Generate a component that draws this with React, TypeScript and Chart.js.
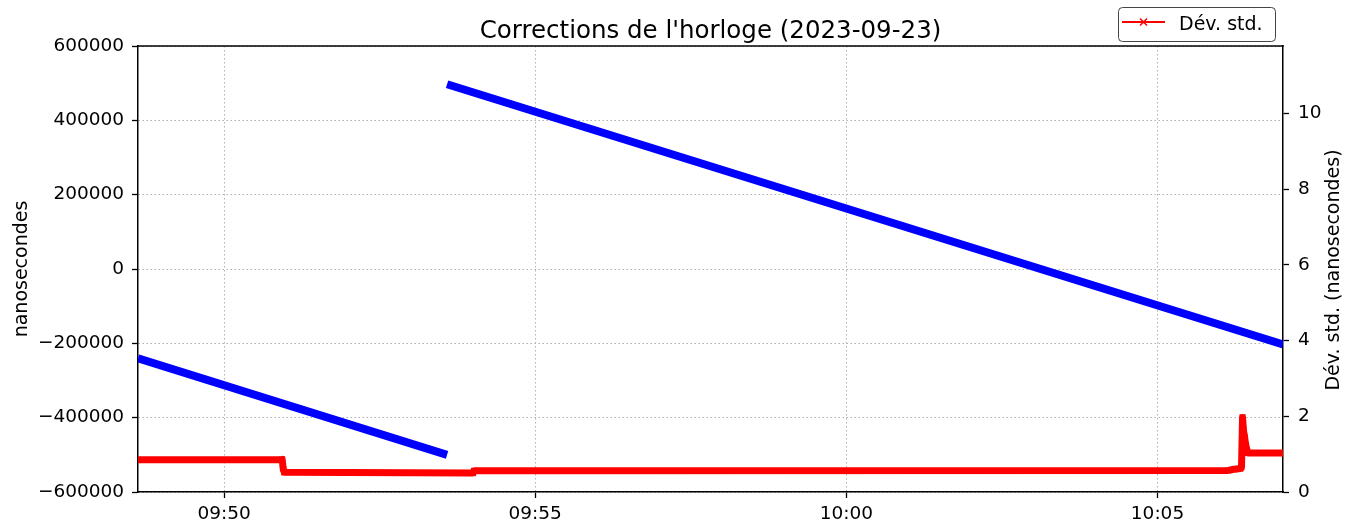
import React, { useEffect, useRef } from 'react';
import { Chart, registerables } from 'chart.js';

Chart.register(...registerables);

const titleText = "Corrections de l'horloge (2023-09-23)";
const leftAxisTitle = 'nanosecondes';
const rightAxisTitle = 'Dév. std. (nanosecondes)';
const legendLabel = 'Dév. std.';

const xRange = ['09:48:37', '10:07:01'];
const xTickLabels = ['09:50', '09:55', '10:00', '10:05'];

const leftTicks = [-600000, -400000, -200000, 0, 200000, 400000, 600000];
const rightTicks = [0, 2, 4, 6, 8, 10];
const rightMax = 11.78;

// Clock corrections (ns), two linear runs separated by a jump
const blueTimes1 = ['09:48:37', '09:53:35'];
const blueValues1 = [-240000, -500000];
const blueTimes2 = ['09:53:35', '10:07:01'];
const blueValues2 = [497000, -203000];

// Standard deviation (ns)
const redTimes = [
  '09:48:37', '09:50:55', '09:50:56', '09:50:57', '09:50:58', '09:54:00', '09:54:01',
  '10:06:08', '10:06:14', '10:06:20', '10:06:21', '10:06:22', '10:06:23', '10:06:24',
  '10:06:25', '10:06:27', '10:07:01',
];
const redValues = [
  0.85, 0.85, 0.86, 0.62, 0.52, 0.5, 0.56,
  0.57, 0.6, 0.62, 0.66, 1.97, 1.6, 1.45,
  1.25, 1.03, 1.03,
];

const FONT = 'DejaVu Sans';

function toSec(t: string): number {
  const p = t.split(':').map(Number);
  return p[0] * 3600 + p[1] * 60 + (p[2] || 0);
}

function fmtTime(v: number): string {
  const h = Math.floor(v / 3600);
  const m = Math.round((v - h * 3600) / 60);
  return String(h).padStart(2, '0') + ':' + String(m).padStart(2, '0');
}

function fmtLeft(v: number): string {
  return v < 0 ? '\u2212' + String(Math.abs(v)) : String(v);
}

const decorPlugin = {
  id: 'decor',
  afterDraw(chart: any) {
    const { ctx, chartArea: a } = chart;
    ctx.save();
    // top spine
    ctx.strokeStyle = '#000';
    ctx.lineWidth = 1.5;
    ctx.beginPath();
    ctx.moveTo(a.left - 0.75, a.top);
    ctx.lineTo(a.right + 0.75, a.top);
    ctx.stroke();

    // title
    ctx.fillStyle = '#000';
    ctx.font = `24.5px "${FONT}"`;
    ctx.textAlign = 'center';
    ctx.textBaseline = 'alphabetic';
    ctx.fillText(titleText, (a.left + a.right) / 2, 38);

    // axis titles
    const midY = (a.top + a.bottom) / 2;
    ctx.font = `19px "${FONT}"`;
    ctx.save();
    ctx.translate(27, midY);
    ctx.rotate(-Math.PI / 2);
    ctx.fillText(leftAxisTitle, 0, 0);
    ctx.restore();
    ctx.save();
    ctx.translate(1339, midY + 1);
    ctx.rotate(-Math.PI / 2);
    ctx.fillText(rightAxisTitle, 0, 0);
    ctx.restore();

    // legend
    const bx = 1118.5, by = 7.5, bw = 157, bh = 34, r = 4;
    ctx.beginPath();
    ctx.moveTo(bx + r, by);
    ctx.lineTo(bx + bw - r, by);
    ctx.quadraticCurveTo(bx + bw, by, bx + bw, by + r);
    ctx.lineTo(bx + bw, by + bh - r);
    ctx.quadraticCurveTo(bx + bw, by + bh, bx + bw - r, by + bh);
    ctx.lineTo(bx + r, by + bh);
    ctx.quadraticCurveTo(bx, by + bh, bx, by + bh - r);
    ctx.lineTo(bx, by + r);
    ctx.quadraticCurveTo(bx, by, bx + r, by);
    ctx.closePath();
    ctx.fillStyle = 'rgba(255,255,255,0.8)';
    ctx.fill();
    ctx.strokeStyle = '#444';
    ctx.lineWidth = 1;
    ctx.stroke();

    ctx.strokeStyle = '#ff0000';
    ctx.lineWidth = 2;
    ctx.beginPath();
    ctx.moveTo(1122, 22);
    ctx.lineTo(1165, 22);
    ctx.stroke();
    ctx.lineWidth = 1.5;
    ctx.beginPath();
    ctx.moveTo(1140, 18.5);
    ctx.lineTo(1147, 25.5);
    ctx.moveTo(1147, 18.5);
    ctx.lineTo(1140, 25.5);
    ctx.stroke();

    ctx.fillStyle = '#000';
    ctx.font = `19px "${FONT}"`;
    ctx.textAlign = 'left';
    ctx.fillText(legendLabel, 1179, 30);
    ctx.restore();
  },
};

export default function App() {
  const ref = useRef<HTMLCanvasElement | null>(null);

  useEffect(() => {
    const canvas = ref.current;
    if (!canvas) return;
    const tickFont = { family: FONT, size: 18.5 };
    const gridCommon = {
      color: '#b0b0b0',
      lineWidth: 1,
      tickLength: 6,
      tickColor: '#000',
      tickWidth: 1.3,
      tickBorderDash: [],
    };
    const chart = new Chart(canvas, {
      type: 'line',
      data: {
        datasets: [
          {
            label: legendLabel,
            data: redTimes.map((t, i) => ({ x: toSec(t), y: redValues[i] })),
            borderColor: '#ff0000',
            backgroundColor: '#ff0000',
            borderWidth: 7,
            borderJoinStyle: 'round',
            pointStyle: 'crossRot',
            pointRadius: 4,
            pointBorderWidth: 1.5,
            pointBorderColor: '#ff0000',
            yAxisID: 'y2',
          },
          {
            label: 'corr1',
            data: blueTimes1.map((t, i) => ({ x: toSec(t), y: blueValues1[i] })),
            borderColor: '#0000ff',
            backgroundColor: '#0000ff',
            borderWidth: 8,
            pointRadius: 0,
            yAxisID: 'y',
          },
          {
            label: 'corr2',
            data: blueTimes2.map((t, i) => ({ x: toSec(t), y: blueValues2[i] })),
            borderColor: '#0000ff',
            backgroundColor: '#0000ff',
            borderWidth: 8,
            pointRadius: 0,
            yAxisID: 'y',
          },
        ],
      },
      options: {
        animation: false,
        responsive: false,
        devicePixelRatio: 1,
        layout: { padding: { top: 46, left: 0, right: 0, bottom: 0 } },
        plugins: {
          legend: { display: false },
          title: { display: false },
          tooltip: { enabled: false },
        },
        scales: {
          x: {
            type: 'linear',
            min: toSec(xRange[0]),
            max: toSec(xRange[1]),
            afterFit: (s: any) => { s.height = 37; },
            afterBuildTicks: (s: any) => { s.ticks = xTickLabels.map((t) => ({ value: toSec(t) })); },
            ticks: {
              callback: (v: any) => fmtTime(Number(v)),
              color: '#000',
              font: tickFont,
              padding: 5,
              maxRotation: 0,
              autoSkip: false,
            },
            grid: gridCommon,
            border: { display: true, color: '#000', width: 1.5, dash: [1.5, 2.5] },
          },
          y: {
            type: 'linear',
            position: 'left',
            min: -600000,
            max: 600000,
            afterFit: (s: any) => { s.width = 138; },
            afterBuildTicks: (s: any) => { s.ticks = leftTicks.map((v) => ({ value: v })); },
            ticks: {
              callback: (v: any) => fmtLeft(Number(v)),
              color: '#000',
              font: tickFont,
              padding: 8,
              autoSkip: false,
            },
            grid: gridCommon,
            border: { display: true, color: '#000', width: 1.5, dash: [1.5, 2.5] },
          },
          y2: {
            type: 'linear',
            position: 'right',
            min: 0,
            max: rightMax,
            afterFit: (s: any) => { s.width = 63; },
            afterBuildTicks: (s: any) => { s.ticks = rightTicks.map((v) => ({ value: v })); },
            ticks: {
              callback: (v: any) => String(v),
              color: '#000',
              font: tickFont,
              padding: 9,
              autoSkip: false,
            },
            grid: { ...gridCommon, drawOnChartArea: false },
            border: { display: true, color: '#000', width: 1.5 },
          },
        },
      },
      plugins: [decorPlugin],
    } as any);
    return () => chart.destroy();
  }, []);

  return (
    <div style={{ position: 'absolute', left: 0, top: 0, width: 1346, height: 529, background: '#fff' }}>
      <canvas ref={ref} width={1346} height={529} style={{ display: 'block' }} />
    </div>
  );
}
